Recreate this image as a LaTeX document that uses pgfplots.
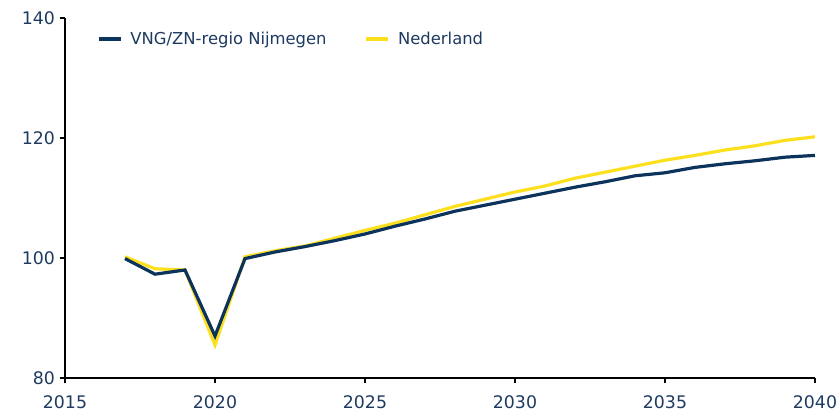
\documentclass[border=0pt]{standalone}
\usepackage{pgfplots}
\pgfplotsset{compat=1.18}
\usepackage{fontspec}
\setmainfont{DejaVu Sans}
\definecolor{navy}{HTML}{0B335C}
\definecolor{gold}{HTML}{FCE01E}
\definecolor{txt}{HTML}{1E3A60}
\begin{document}
\begin{tikzpicture}[x=0.75pt,y=0.75pt]
\begin{axis}[
  name=ax,
  scale only axis,
  width=562.5pt, height=270pt,
  xmin=2015, xmax=2040, ymin=80, ymax=140,
  axis x line=bottom, axis y line=left,
  axis line style={-, black, line width=1.2pt},
  xtick={2015,2020,...,2040}, ytick={80,100,120,140},
  tick align=outside, major tick length=4pt,
  tick style={black, line width=1pt},
  xticklabel style={/pgf/number format/1000 sep={}, yshift=-5.5pt},
  /pgf/number format/assume math mode=true,
  ticklabel style={font=\fontsize{13}{15}\selectfont, text=txt},
  legend style={draw=none, fill=none, at={(0.037,0.977)}, anchor=north west,
    font=\fontsize{12.3}{14}\selectfont, text=txt, legend columns=2,
    /tikz/every odd column/.append style={column sep=4pt},
    /tikz/every even column/.append style={column sep=26.5pt}},
  legend image code/.code={\draw[#1, line width=2.6pt, line cap=butt] (0pt,0pt) -- (16.5pt,0pt);},
  clip=false,
]
\addplot[gold, line width=2.4pt, forget plot] coordinates {
(2017,100.2)(2018,98.2)(2019,98.0)(2020,85.5)(2021,100.2)(2022,101.2)(2023,102.0)(2024,103.3)(2025,104.6)(2026,105.8)(2027,107.2)(2028,108.6)(2029,109.8)(2030,111.0)(2031,112.0)(2032,113.3)(2033,114.3)(2034,115.3)(2035,116.3)(2036,117.1)(2037,118.0)(2038,118.7)(2039,119.6)(2040,120.2)};
\addplot[navy, line width=2.4pt] coordinates {
(2017,99.9)(2018,97.3)(2019,98.0)(2020,87.0)(2021,99.9)(2022,101.0)(2023,101.9)(2024,102.9)(2025,104.0)(2026,105.3)(2027,106.5)(2028,107.8)(2029,108.8)(2030,109.8)(2031,110.8)(2032,111.8)(2033,112.7)(2034,113.7)(2035,114.2)(2036,115.1)(2037,115.7)(2038,116.2)(2039,116.8)(2040,117.1)};
\addlegendentry{VNG/ZN-regio Nijmegen}
\addlegendimage{gold}
\addlegendentry{Nederland}
\end{axis}
\pgfresetboundingbox
\path (ax.south west) ++(-48.75pt,-25.5pt) rectangle ([shift={(18.75pt,13.5pt)}]ax.north east);
\end{tikzpicture}
\end{document}
